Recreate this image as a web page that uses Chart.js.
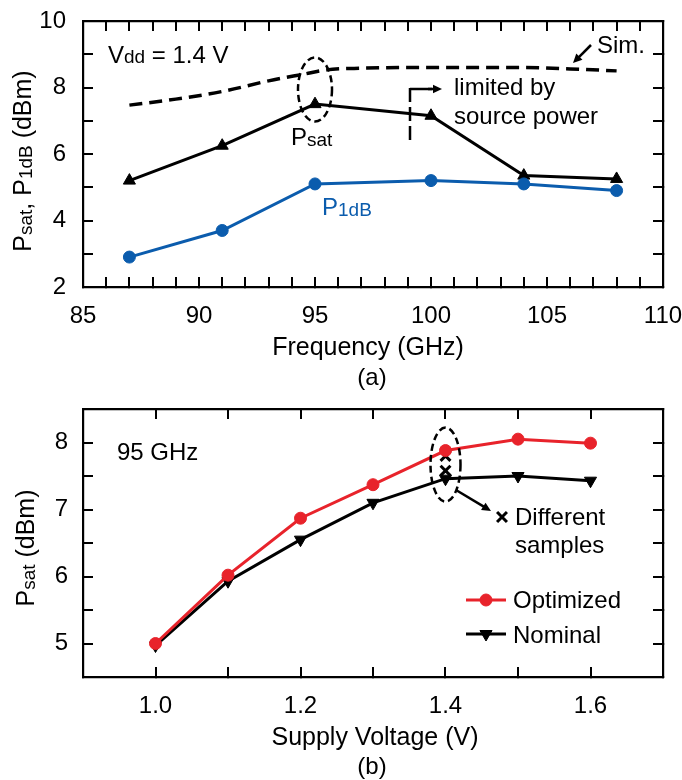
<!DOCTYPE html>
<html>
<head>
<meta charset="utf-8">
<script src="https://cdn.jsdelivr.net/npm/chart.js@4.4.1/dist/chart.umd.min.js"></script>
<style>
  body { margin: 0; background: #fff; }
  canvas { display: block; }
</style>
</head>
<body>
<canvas id="freqChart" width="682" height="390"></canvas>
<canvas id="vddChart" width="682" height="390"></canvas>
<script>
// (a) output power vs frequency, Vdd = 1.4 V
const freqGHz = [87, 91, 95, 100, 104, 108];
const psatMeas = [5.2, 6.25, 7.5, 7.15, 5.35, 5.25];
const p1dbMeas = [2.9, 3.7, 5.1, 5.2, 5.1, 4.9];
const simFreq = [87, 89, 91, 93, 94.5, 95.5, 97, 100, 104, 106, 108];
const psatSim = [7.47, 7.65, 7.88, 8.2, 8.4, 8.53, 8.58, 8.6, 8.6, 8.56, 8.5];
const freqTicks = [85, 90, 95, 100, 105, 110];
const dbmTicksA = [2, 4, 6, 8, 10];

// (b) Psat vs supply voltage at 95 GHz
const supplyV = [1.0, 1.1, 1.2, 1.3, 1.4, 1.5, 1.6];
const psatOptimized = [5.0, 6.02, 6.87, 7.37, 7.88, 8.05, 7.99];
const psatNominal = [4.97, 5.93, 6.55, 7.1, 7.46, 7.5, 7.43];
const sampleV = [1.4, 1.4];
const psatSamples = [7.8, 7.58];
const voltTicks = [1.0, 1.2, 1.4, 1.6];
const dbmTicksB = [5, 6, 7, 8];

const FONT = '"Liberation Sans", Arial, Helvetica, sans-serif';
const BLUE = '#0b5cad';
const RED = '#e8232b';

const pts = (xs, ys) => xs.map((v, i) => ({ x: v, y: ys[i] }));

// every minor tick position between lo and hi
function steps(lo, hi, step) {
  const n = Math.round((hi - lo) / step);
  const out = [];
  for (let i = 0; i <= n; i++) out.push(Math.round((lo + i * step) * 1000) / 1000);
  return out;
}

function richText(ctx, parts, x, y, align) {
  // parts: [text, size, baseline shift]
  let w = 0;
  parts.forEach(p => { ctx.font = p[1] + 'px ' + FONT; w += ctx.measureText(p[0]).width; });
  let cx = align === 'center' ? x - w / 2 : x;
  ctx.textAlign = 'left';
  ctx.textBaseline = 'alphabetic';
  parts.forEach(p => {
    ctx.font = p[1] + 'px ' + FONT;
    ctx.fillText(p[0], cx, y + (p[2] || 0));
    cx += ctx.measureText(p[0]).width;
  });
}

function arrow(ctx, x1, y1, x2, y2, head) {
  const a = Math.atan2(y2 - y1, x2 - x1);
  ctx.beginPath();
  ctx.moveTo(x1, y1);
  ctx.lineTo(x2 - Math.cos(a) * head * 0.7, y2 - Math.sin(a) * head * 0.7);
  ctx.stroke();
  ctx.beginPath();
  ctx.moveTo(x2, y2);
  ctx.lineTo(x2 - head * Math.cos(a - 0.45), y2 - head * Math.sin(a - 0.45));
  ctx.lineTo(x2 - head * Math.cos(a + 0.45), y2 - head * Math.sin(a + 0.45));
  ctx.closePath();
  ctx.fill();
}

function dashedEllipse(ctx, cx, cy, rx, ry) {
  ctx.save();
  ctx.setLineDash([7, 4]);
  ctx.lineWidth = 2.5;
  ctx.beginPath();
  ctx.ellipse(cx, cy, rx, ry, 0, 0, Math.PI * 2);
  ctx.stroke();
  ctx.restore();
}

const notesA = {
  id: 'notesA',
  afterDraw(chart) {
    const { ctx, scales: { x, y } } = chart;
    ctx.save();
    ctx.fillStyle = '#000';
    ctx.strokeStyle = '#000';

    // axis titles and caption
    ctx.save();
    ctx.translate(31, 161);
    ctx.rotate(-Math.PI / 2);
    richText(ctx, [['P', 25], ['sat', 19, 1], [', P', 25], ['1dB', 19, 1], [' (dBm)', 25]], 0, 0, 'center');
    ctx.restore();
    richText(ctx, [['Frequency (GHz)', 25]], 368, 355, 'center');
    richText(ctx, [['(a)', 24]], 372, 385, 'center');

    // in-plot labels
    richText(ctx, [['V', 24], ['dd', 19], [' = 1.4 V', 24]], 108, 63);
    richText(ctx, [['P', 24], ['sat', 19, 1]], 291, 145);
    ctx.fillStyle = BLUE;
    richText(ctx, [['P', 24], ['1dB', 19, 1]], 322, 215);
    ctx.fillStyle = '#000';
    richText(ctx, [['Sim.', 24]], 597, 53);
    richText(ctx, [['limited by', 24]], 454, 95);
    richText(ctx, [['source power', 24]], 454, 124);

    ctx.lineWidth = 2.5;
    arrow(ctx, 591, 45, 573, 63, 10);

    // bracket marking the source-power limit
    ctx.beginPath();
    ctx.moveTo(410, 89);
    ctx.lineTo(432, 89);
    ctx.stroke();
    arrow(ctx, 428, 89, 442, 89, 10);
    ctx.save();
    ctx.setLineDash([14, 5]);
    ctx.beginPath();
    ctx.moveTo(410, 88);
    ctx.lineTo(410, 145);
    ctx.stroke();
    ctx.restore();

    dashedEllipse(ctx, x.getPixelForValue(95), y.getPixelForValue(7.94), 17, 32);
    ctx.restore();
  }
};

const notesB = {
  id: 'notesB',
  afterDraw(chart) {
    const { ctx, scales: { x, y } } = chart;
    ctx.save();
    ctx.fillStyle = '#000';
    ctx.strokeStyle = '#000';

    ctx.save();
    ctx.translate(34, 158);
    ctx.rotate(-Math.PI / 2);
    richText(ctx, [['P', 25], ['sat', 19, 1], [' (dBm)', 25]], 0, 0, 'center');
    ctx.restore();
    richText(ctx, [['Supply Voltage (V)', 25]], 375, 355, 'center');
    richText(ctx, [['(b)', 24]], 372, 384, 'center');

    richText(ctx, [['95 GHz', 24]], 117, 70);
    richText(ctx, [['Different', 24]], 515, 135);
    richText(ctx, [['samples', 24]], 515, 163);

    const h = Chart.helpers;
    ctx.lineWidth = 3;
    h.drawPoint(ctx, { pointStyle: 'crossRot', radius: 7, borderWidth: 3 }, 502, 127);

    ctx.lineWidth = 2.5;
    arrow(ctx, 456, 100, 491, 121, 10);

    dashedEllipse(ctx, x.getPixelForValue(1.4), y.getPixelForValue(7.67), 15, 37);

    // legend
    const ds = chart.data.datasets;
    [[ds[0], 210, 218], [ds[1], 244, 253]].forEach(([d, ly, ty]) => {
      ctx.strokeStyle = d.borderColor;
      ctx.fillStyle = d.pointBackgroundColor;
      ctx.lineWidth = d.borderWidth;
      ctx.beginPath();
      ctx.moveTo(466, ly);
      ctx.lineTo(506, ly);
      ctx.stroke();
      ctx.lineWidth = 1;
      h.drawPoint(ctx, { pointStyle: d.pointStyle, radius: d.pointRadius, rotation: d.rotation || 0, borderWidth: 1 }, 486, ly);
      ctx.fillStyle = '#000';
      richText(ctx, [[d.label, 24]], 513, ty);
    });
    ctx.restore();
  }
};

// four framed axes with inward tick marks; only the bottom/left carry labels
function axes(xr, xTicks, yr, yTicks, xFmt, yPad) {
  const tickFont = { family: FONT, size: 24 };
  const TL = 10;
  const xMinor = steps(xr[0], xr[1], xr[2]);
  const yMinor = steps(yr[0], yr[1], yr[2]);
  const grid = { display: true, drawOnChartArea: false, drawTicks: true, tickLength: -TL, color: '#000', lineWidth: 2 };
  const border = { display: true, color: '#000', width: 2.2 };
  const side = (axis, pos, r, minor) => ({
    type: 'linear', axis, position: pos, min: r[0], max: r[1],
    afterBuildTicks: s => { s.ticks = minor.map(v => ({ value: v })); },
    afterFit: s => {
      if (axis === 'x') s.height = 0; else s.width = 0;
      s.paddingLeft = s.paddingRight = s.paddingTop = s.paddingBottom = 0;
    },
    grid, border,
    ticks: { display: false }
  });
  return {
    x: {
      type: 'linear', position: 'bottom', min: xr[0], max: xr[1],
      afterBuildTicks: s => { s.ticks = xMinor.map(v => ({ value: v })); },
      afterFit: s => { s.height = 103; s.paddingLeft = 0; s.paddingRight = 0; },
      grid, border,
      ticks: {
        padding: 15 + TL, color: '#000', font: tickFont, maxRotation: 0, autoSkip: false,
        callback: v => (xTicks.some(t => Math.abs(t - v) < 1e-6) ? xFmt(v) : '')
      }
    },
    y: {
      type: 'linear', position: 'left', min: yr[0], max: yr[1],
      afterBuildTicks: s => { s.ticks = yMinor.map(v => ({ value: v })); },
      afterFit: s => { s.width = 83; s.paddingTop = 0; s.paddingBottom = 0; },
      grid, border,
      ticks: {
        padding: yPad + TL, color: '#000', font: tickFont, autoSkip: false,
        callback: v => (yTicks.some(t => Math.abs(t - v) < 1e-6) ? v : '')
      }
    },
    xTop: side('x', 'top', xr, xMinor),
    yRight: side('y', 'right', yr, yMinor)
  };
}

new Chart(document.getElementById('freqChart'), {
  type: 'scatter',
  data: {
    datasets: [
      {
        label: 'Sim.', data: pts(simFreq, psatSim), showLine: true,
        borderColor: '#000', borderWidth: 3.5, borderDash: [13, 7],
        pointRadius: 0, cubicInterpolationMode: 'monotone'
      },
      {
        label: 'P1dB', data: pts(freqGHz, p1dbMeas), showLine: true,
        borderColor: BLUE, borderWidth: 3, pointStyle: 'circle', pointRadius: 6,
        pointBackgroundColor: BLUE, pointBorderColor: BLUE, pointBorderWidth: 1
      },
      {
        label: 'Psat', data: pts(freqGHz, psatMeas), showLine: true,
        borderColor: '#000', borderWidth: 3, pointStyle: 'triangle', pointRadius: 7,
        pointBackgroundColor: '#000', pointBorderColor: '#000', pointBorderWidth: 1
      }
    ]
  },
  options: {
    responsive: false, animation: false, devicePixelRatio: 1,
    layout: { padding: { top: 21, right: 19, left: 0, bottom: 0 } },
    plugins: { legend: { display: false }, tooltip: { enabled: false } },
    scales: axes([85, 110, 1], freqTicks, [2, 10, 1], dbmTicksA, v => v, 17)
  },
  plugins: [notesA]
});

new Chart(document.getElementById('vddChart'), {
  type: 'scatter',
  data: {
    datasets: [
      {
        label: 'Optimized', data: pts(supplyV, psatOptimized), showLine: true,
        borderColor: RED, borderWidth: 3, pointStyle: 'circle', pointRadius: 6,
        pointBackgroundColor: RED, pointBorderColor: RED, pointBorderWidth: 1
      },
      {
        label: 'Nominal', data: pts(supplyV, psatNominal), showLine: true,
        borderColor: '#000', borderWidth: 3, pointStyle: 'triangle', rotation: 180, pointRadius: 7,
        pointBackgroundColor: '#000', pointBorderColor: '#000', pointBorderWidth: 1
      },
      {
        label: 'Different samples', data: pts(sampleV, psatSamples), showLine: false,
        pointStyle: 'crossRot', pointRadius: 7, pointBorderWidth: 3,
        pointBorderColor: '#000', pointBackgroundColor: '#000'
      }
    ]
  },
  options: {
    responsive: false, animation: false, devicePixelRatio: 1,
    layout: { padding: { top: 19, right: 19, left: 0, bottom: 0 } },
    plugins: { legend: { display: false }, tooltip: { enabled: false } },
    scales: axes([0.9, 1.7, 0.1], voltTicks, [4.5, 8.5, 0.5], dbmTicksB, v => v.toFixed(1), 15)
  },
  plugins: [notesB]
});
</script>
</body>
</html>
